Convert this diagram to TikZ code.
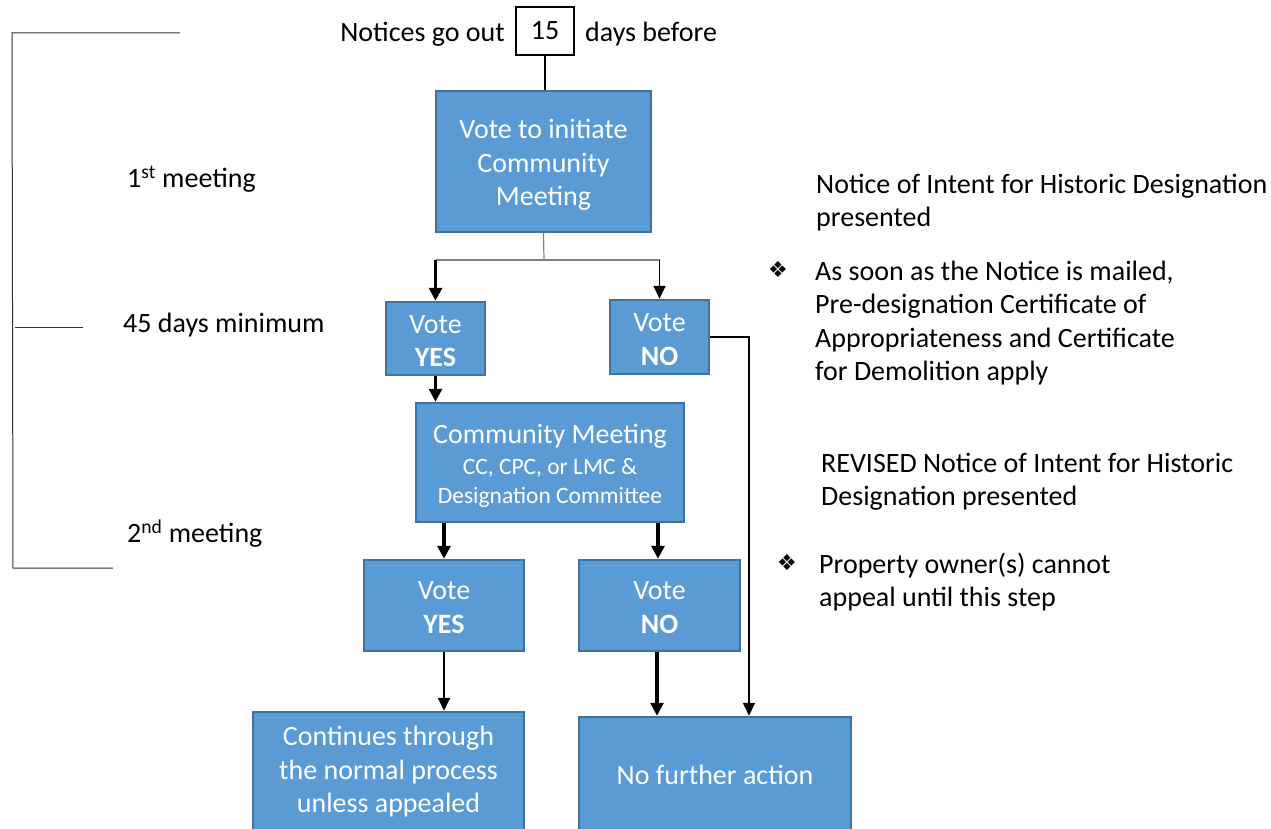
\documentclass[tikz,border=0pt]{standalone}
\usepackage{fontspec}
\setmainfont{Carlito}
\newfontfamily\dejavu{DejaVu Sans}
\usetikzlibrary{arrows.meta}
\definecolor{boxfill}{HTML}{5B9BD5}
\definecolor{boxline}{HTML}{41719C}
\definecolor{splitgray}{HTML}{808080}
\begin{document}
\begin{tikzpicture}[x=1pt,y=-1pt,
  bluebox/.style={draw=boxline, fill=boxfill, line width=2.5pt, text=white, align=center, inner sep=0pt, font=\fontsize{28}{33.5}\selectfont},
  lbl/.style={inner sep=0pt, font=\fontsize{28}{33.5}\selectfont, align=left},
  bullet/.style={inner sep=0pt, font=\dejavu\fontsize{22}{24}\selectfont},
  arr/.style={-{Triangle[length=13pt,width=13pt]}, line width=3.2pt},
  thinarr/.style={-{Triangle[length=13pt,width=12pt]}, line width=1.7pt},
  bracket/.style={line width=1pt, draw=black!80},
]
\useasboundingbox (0,0) rectangle (1271,829);

% left bracket
\coordinate (bt) at (12,33);
\coordinate (btr) at (180,33);
\coordinate (bb) at (13,568);
\coordinate (bbr) at (113,568);
\coordinate (bm) at (15,327);
\coordinate (bmr) at (83,327);
\draw[bracket] (btr) -- (bt) -- (bb) -- (bbr);
\draw[bracket] (bm) -- (bmr);

\node[lbl, anchor=west] (m1) at (127,179) {1\textsuperscript{st} meeting};
\node[lbl, anchor=west] (d45) at (123,325) {45 days minimum};
\node[lbl, anchor=west] (m2) at (127,534) {2\textsuperscript{nd} meeting};

% top
\node[draw=black, line width=1.5pt, minimum width=58pt, minimum height=48pt, inner sep=0pt, font=\fontsize{28}{33.5}\selectfont] (n15) at (545,31) {15};
\node[lbl, anchor=east] (notices) at (505,34) {Notices go out};
\node[lbl, anchor=west] (before) at (585,34) {days before};

% boxes
\node[bluebox, minimum width=215pt, minimum height=141pt] (b1) at (543.5,161.5) {\rule{0pt}{26pt}Vote to initiate\\Community\\Meeting};
\node[bluebox, minimum width=99pt, minimum height=73pt] (yes1) at (435.5,338.5) {\rule{0pt}{23pt}Vote\\\textbf{YES}};
\node[bluebox, minimum width=99pt, minimum height=74pt] (no1) at (659.5,337) {\rule{0pt}{23pt}Vote\\\textbf{NO}};
\node[bluebox, minimum width=268pt, minimum height=119pt] (cm) at (550,462.5) {\rule{0pt}{27pt}Community Meeting\\[-3pt]\fontsize{23.5}{28}\selectfont CC, CPC, or LMC \&\\[-4pt]\fontsize{23.5}{28}\selectfont Designation Committee};
\node[bluebox, minimum width=160pt, minimum height=91pt] (yes2) at (444,605.5) {\rule{0pt}{22pt}Vote\\\textbf{YES}};
\node[bluebox, minimum width=161pt, minimum height=91pt] (no2) at (659.5,605.5) {\rule{0pt}{22pt}Vote\\\textbf{NO}};
\node[bluebox, minimum width=271pt, minimum height=120pt] (cont) at (388.5,772) {Continues through\\the normal process\\unless appealed};
\node[bluebox, minimum width=272pt, minimum height=116pt] (nf) at (715,775) {No further action};

% connectors
\draw[line width=2pt] (n15.south) -- (n15.south |- b1.north);
\coordinate (split) at (544,260);
\draw[splitgray, line width=1.2pt] (b1.south) -- (split);
\draw[splitgray, line width=1.2pt] (yes1.north |- split) -- (no1.north |- split);
\draw[arr] (yes1.north |- split) -- (yes1.north);
\draw[thinarr] (no1.north |- split) -- (no1.north);
\draw[arr] (yes1.south) -- (yes1.south |- cm.north);
\coordinate (nobend) at (749,337);
\draw[thinarr] (no1.east) -- (nobend) -- (nobend |- nf.north);
\draw[arr] (yes2.north |- cm.south) -- (yes2.north);
\draw[arr] ([xshift=-1.5pt]no2.north |- cm.south) -- ([xshift=-1.5pt]no2.north);
\draw[thinarr] (yes2.south) -- (yes2.south |- cont.north);
\draw[arr] ([xshift=-2.5pt]no2.south) -- ([xshift=-2.5pt]no2.south |- nf.north);

% right-side notes
\node[lbl, anchor=west] (t1) at (816,202.5) {Notice of Intent for Historic Designation\\presented};
\node[bullet] (bu1) at (778,270) {❖};
\node[lbl, anchor=west] (t2) at (815,323) {As soon as the Notice is mailed,\\Pre-designation Certificate of\\Appropriateness and Certificate\\for Demolition apply};
\node[lbl, anchor=west] (t3) at (821,481.5) {REVISED Notice of Intent for Historic\\Designation presented};
\node[bullet] (bu2) at (787,563) {❖};
\node[lbl, anchor=west] (t4) at (819,582) {Property owner(s) cannot\\appeal until this step};
\end{tikzpicture}
\end{document}
